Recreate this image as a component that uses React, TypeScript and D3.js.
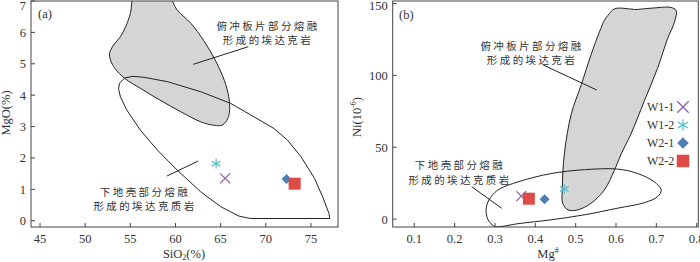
import React from "react";
import * as d3 from "d3";

// ---------- data ----------
const samples = ["W1-1", "W1-2", "W2-1", "W2-2"];
const sampleSymbols = ["x", "asterisk", "diamond", "square"];
const sampleColors = ["#8f5ca8", "#5fc0cf", "#4f7db7", "#df4b46"];

// Panel (a): SiO2 vs MgO
const sio2 = [65.5, 64.5, 72.3, 73.2];
const mgo = [1.35, 1.82, 1.33, 1.18];

// Panel (b): Mg# vs Ni
const mgNum = [0.365, 0.472, 0.423, 0.384];
const ni = [16, 21, 13.8, 14.2];

const xTicksA = [45, 50, 55, 60, 65, 70, 75];
const yTicksA = [0, 1, 2, 3, 4, 5, 6, 7];
const xTicksB = [0.1, 0.2, 0.3, 0.4, 0.5, 0.6, 0.7, 0.8];
const yTicksB = [0, 50, 100, 150];

// field outlines (SiO2, MgO)
const slabFieldA: [number, number][] = [
  [55.6, 7.3], [55.0, 6.6], [54.56, 6.23], [53.9, 5.86], [53.15, 5.6], [52.7, 5.33],
  [52.8, 5.12], [53.3, 4.85], [54.4, 4.53], [56.1, 4.22], [58.3, 3.84], [60.6, 3.47],
  [62.8, 3.15], [64.3, 3.04], [65.2, 3.05], [65.8, 3.26], [66.0, 3.53], [65.9, 3.95],
  [65.4, 4.48], [64.4, 5.12], [63.1, 5.75], [61.7, 6.29], [60.2, 6.71], [58.9, 7.3],
];
const crustFieldA: [number, number][] = [
  [55.3, 4.6], [54.4, 4.55], [53.8, 4.38], [53.7, 4.2], [53.9, 3.95], [54.6, 3.53],
  [56.1, 2.89], [58.0, 2.25], [60.2, 1.61], [62.8, 0.92], [65.0, 0.45], [67.0, 0.15],
  [68.3, 0.07], [77.1, 0.07], [77.0, 0.23], [76.3, 0.76], [75.4, 1.35], [73.9, 2.04],
  [72.4, 2.57], [70.9, 2.94], [68.7, 3.31], [66.1, 3.74], [62.8, 4.11], [59.1, 4.43],
  [56.5, 4.57],
];

// field outlines (Mg#, Ni)
const slabFieldB: [number, number][] = [
  [0.580, 141.8], [0.596, 146.3], [0.617, 146.8], [0.646, 145.9], [0.687, 146.8],
  [0.736, 147.3], [0.749, 145.2], [0.745, 137.2], [0.728, 125.7], [0.703, 105],
  [0.670, 82.1], [0.637, 59.2], [0.613, 45.4], [0.596, 33.9], [0.571, 20.2],
  [0.538, 11], [0.505, 6.4], [0.481, 6.4], [0.468, 11], [0.467, 22.4], [0.472, 45.4],
  [0.489, 73], [0.514, 93.6], [0.538, 114.3], [0.559, 130.3], [0.571, 138.3],
];
const crustFieldB: [number, number][] = [
  [0.278, 6.4], [0.285, 13.3], [0.307, 20.2], [0.357, 25.9], [0.439, 31.7],
  [0.522, 34.4], [0.604, 34.8], [0.654, 31.7], [0.695, 25.9], [0.712, 20.2],
  [0.703, 15.6], [0.670, 11.4], [0.604, 7.6], [0.522, 3.0], [0.439, -0.5],
  [0.357, -3.2], [0.316, -5.1], [0.299, -5.1], [0.283, -0.5],
];

const slabLabel = ["俯冲板片部分熔融", "形成的埃达克岩"];
const crustLabel = ["下地壳部分熔融", "形成的埃达克质岩"];

// ---------- layout ----------
const A = { left: 31, right: 338, top: 1, bottom: 227 };
const B = { left: 392.7, right: 698.3, top: 1, bottom: 227 };

const xA = d3.scaleLinear().domain([44, 78]).range([A.left, A.right]);
const yA = d3.scaleLinear().domain([-0.2, 7.0]).range([A.bottom, A.top]);
const xB = d3.scaleLinear().domain([0.0465, 0.804]).range([B.left, B.right]);
const yB = d3.scaleLinear().domain([-5.5, 151.8]).range([B.bottom, B.top]);

const serif = "'Liberation Serif', 'Times New Roman', serif";
const cjk = "'Noto Sans CJK SC', sans-serif";
const textColor = "#333";

function Symbol({ kind, x, y, size, color }: { kind: string; x: number; y: number; size: number; color: string }) {
  const h = size / 2;
  if (kind === "x") {
    return (
      <g stroke={color} strokeWidth={1.3}>
        <line x1={x - h} y1={y - h} x2={x + h} y2={y + h} />
        <line x1={x - h} y1={y + h} x2={x + h} y2={y - h} />
      </g>
    );
  }
  if (kind === "asterisk") {
    return (
      <g stroke={color} strokeWidth={1.3}>
        <line x1={x} y1={y - h} x2={x} y2={y + h} />
        <line x1={x - h * 0.87} y1={y - h * 0.5} x2={x + h * 0.87} y2={y + h * 0.5} />
        <line x1={x - h * 0.87} y1={y + h * 0.5} x2={x + h * 0.87} y2={y - h * 0.5} />
      </g>
    );
  }
  if (kind === "diamond") {
    return <path d={`M${x},${y - h}L${x + h},${y}L${x},${y + h}L${x - h},${y}Z`} fill={color} />;
  }
  return <rect x={x - h} y={y - h} width={size} height={size} fill={color} />;
}

function Frame({ box, xs, ys, xTicks, yTicks, fmtX, fmtY }: any) {
  return (
    <g>
      <rect x={box.left} y={box.top} width={box.right - box.left} height={box.bottom - box.top} fill="none" stroke="#444" strokeWidth={1} />
      {xTicks.map((t: number) => (
        <g key={"x" + t}>
          <line x1={xs(t)} x2={xs(t)} y1={box.bottom} y2={box.bottom - 4} stroke="#444" />
          <text x={xs(t)} y={box.bottom + 16} textAnchor="middle" fontFamily={serif} fontSize={12.5} fill={textColor}>{fmtX(t)}</text>
        </g>
      ))}
      {yTicks.map((t: number) => (
        <g key={"y" + t}>
          <line x1={box.left} x2={box.left + 4} y1={ys(t)} y2={ys(t)} stroke="#444" />
          <text x={box.left - 5} y={Math.max(ys(t) + 4.5, 10)} textAnchor="end" fontFamily={serif} fontSize={12.5} fill={textColor}>{fmtY(t)}</text>
        </g>
      ))}
    </g>
  );
}

function Label({ lines, cx, cy, gap }: { lines: string[]; cx: number; cy: number[]; gap?: number }) {
  return (
    <g>
      {lines.map((l, i) => (
        <text key={i} x={cx} y={cy[i] + 4} textAnchor="middle" fontFamily={cjk} fontSize={10.5} letterSpacing={gap ?? 2.4} fill={textColor}>{l}</text>
      ))}
    </g>
  );
}

export default function App() {
  const lineA = (xs: any, ys: any, curve: any) =>
    d3.line<[number, number]>().x((d) => xs(d[0])).y((d) => ys(d[1])).curve(curve);

  const slabA = lineA(xA, yA, d3.curveCatmullRomClosed.alpha(0.5))(slabFieldA) || "";
  const crustA = lineA(xA, yA, d3.curveLinearClosed)(crustFieldA) || "";
  const slabB = lineA(xB, yB, d3.curveCatmullRomClosed.alpha(0.5))(slabFieldB) || "";
  const crustB = lineA(xB, yB, d3.curveCatmullRomClosed.alpha(0.5))(crustFieldB) || "";

  return (
    <svg width={700} height={262} style={{ position: "absolute", left: 0, top: 0, background: "#fff" }}>
      <defs>
        <clipPath id="clipA"><rect x={A.left} y={A.top} width={A.right - A.left} height={A.bottom - A.top} /></clipPath>
        <clipPath id="clipB"><rect x={B.left} y={B.top} width={B.right - B.left} height={B.bottom - B.top} /></clipPath>
      </defs>
      <rect x={0} y={0} width={700} height={262} fill="#fff" />

      {/* Panel (a) */}
      <g clipPath="url(#clipA)">
        <path d={slabA} fill="#d5d5d5" stroke="#222" strokeWidth={1} />
        <path d={crustA} fill="none" stroke="#222" strokeWidth={1} />
        <line x1={248.3} y1={46.7} x2={193.3} y2={64.3} stroke="#222" />
        <line x1={198.3} y1={161} x2={167} y2={176} stroke="#222" />
        {samples.map((s, i) => (
          <Symbol key={s} kind={sampleSymbols[i]} x={xA(sio2[i])} y={yA(mgo[i])} size={i === 3 ? 12 : 10} color={sampleColors[i]} />
        ))}
      </g>
      <Frame box={A} xs={xA} ys={yA} xTicks={xTicksA} yTicks={yTicksA} fmtX={(t: number) => String(t)} fmtY={(t: number) => String(t)} />
      <Label lines={slabLabel} cx={268} cy={[26, 40]} />
      <Label lines={crustLabel} cx={145} cy={[192, 206]} />
      <text x={38} y={18} fontFamily={serif} fontSize={12.5} fill={textColor}>(a)</text>
      <text x={184} y={258} textAnchor="middle" fontFamily={serif} fontSize={12.5} fill={textColor}>
        SiO<tspan fontSize={8} dy={2}>2</tspan><tspan dy={-2}>(%)</tspan>
      </text>
      <text transform="translate(10,113) rotate(-90)" textAnchor="middle" fontFamily={serif} fontSize={12.5} fill={textColor}>MgO(%)</text>

      {/* Panel (b) */}
      <g clipPath="url(#clipB)">
        <path d={slabB} fill="#d5d5d5" stroke="#222" strokeWidth={1} />
        <path d={crustB} fill="none" stroke="#222" strokeWidth={1} />
        <line x1={543.3} y1={65} x2={596.7} y2={90} stroke="#222" />
        <line x1={471.7} y1={186.7} x2={501.7} y2={208.3} stroke="#222" />
        {samples.map((s, i) => (
          <Symbol key={s} kind={sampleSymbols[i]} x={xB(mgNum[i])} y={yB(ni[i])} size={i === 3 ? 12 : 10} color={sampleColors[i]} />
        ))}
      </g>
      <Frame box={B} xs={xB} ys={yB} xTicks={xTicksB} yTicks={yTicksB} fmtX={(t: number) => d3.format(".1f")(t)} fmtY={(t: number) => String(t)} />
      <Label lines={slabLabel} cx={532} cy={[46, 60]} />
      <Label lines={crustLabel} cx={460} cy={[165, 180]} />
      <text x={399} y={19} fontFamily={serif} fontSize={12.5} fill={textColor}>(b)</text>
      <text x={548} y={258} textAnchor="middle" fontFamily={serif} fontSize={12.5} fill={textColor}>
        Mg<tspan fontSize={8} dy={-5}>#</tspan>
      </text>
      <text transform="translate(361,117) rotate(-90)" textAnchor="middle" fontFamily={serif} fontSize={12.5} fill={textColor}>
        Ni(10<tspan fontSize={8} dy={-5}>-6</tspan><tspan dy={5}>)</tspan>
      </text>

      {/* legend */}
      {samples.map((s, i) => (
        <g key={"lg" + s}>
          <text x={647} y={111 + i * 18} fontFamily={serif} fontSize={12} fill={textColor}>{s}</text>
          <Symbol kind={sampleSymbols[i]} x={683} y={107 + i * 18} size={i === 3 ? 12.5 : 11.5} color={sampleColors[i]} />
        </g>
      ))}
    </svg>
  );
}
